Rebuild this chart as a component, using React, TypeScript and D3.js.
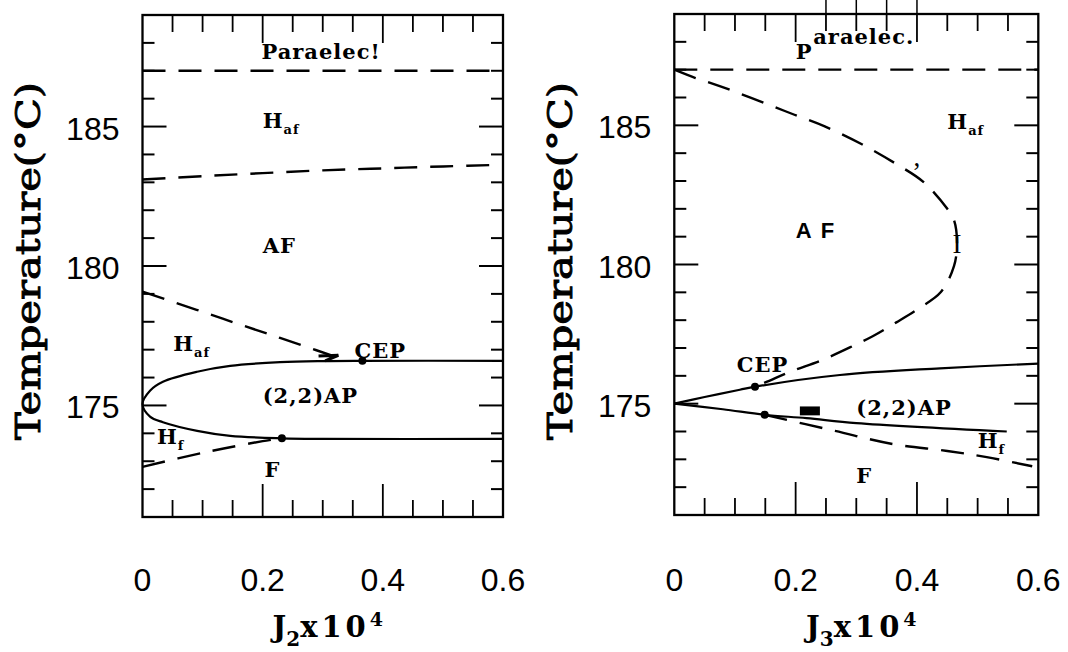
import React from 'react';
import * as d3 from 'd3';

type Pt = [number, number];

// ---- axes (shared by both panels)
const J_DOMAIN: Pt = [0, 0.6];
const T_DOMAIN: Pt = [171, 189];
const J_LABELS = [0, 0.2, 0.4, 0.6];
const J_MAJOR = [0.2, 0.4];
const J_MINOR = [0.05, 0.1, 0.15, 0.25, 0.3, 0.35, 0.45, 0.5, 0.55];
const T_LABELS = [175, 180, 185];
const T_MINOR = [172, 173, 174, 176, 177, 178, 179, 181, 182, 183, 184, 186, 187, 188];

// ---- left panel : J2
const j2Paraelec: Pt[] = [[0, 187], [0.6, 187]];
const j2HafAf: Pt[] = [[0, 183.1], [0.1, 183.22], [0.2, 183.33], [0.3, 183.43], [0.4, 183.5], [0.5, 183.57], [0.6, 183.63]];
const j2AfHaf: Pt[] = [[0, 179.08], [0.09, 178.43], [0.15, 177.99], [0.207, 177.58], [0.262, 177.18], [0.325, 176.72]];
const j2Ap: Pt[] = [
  [0.6, 176.6], [0.366, 176.6], [0.3, 176.59], [0.229, 176.55], [0.146, 176.42], [0.091, 176.21], [0.034, 175.85],
  [0.0125, 175.53], [0, 175.05], [0.0125, 174.6], [0.034, 174.4], [0.091, 174.09], [0.146, 173.91], [0.232, 173.82],
  [0.3, 173.8], [0.6, 173.8],
];
const j2HfF: Pt[] = [[0, 172.8], [0.1, 173.3], [0.2, 173.72], [0.232, 173.82]];
const j2Hook: Pt[] = [[0.293, 176.77], [0.326, 176.8], [0.304, 176.6]];
const j2Dots: Pt[] = [[0.366, 176.6], [0.232, 173.82]];
const j2Labels = [
  { text: 'Paraelec!', j: 0.198, t: 187.42 },
  { text: 'H', sub: 'af', j: 0.2, t: 184.95 },
  { text: 'AF', j: 0.2, t: 180.48 },
  { text: 'H', sub: 'af', j: 0.051, t: 176.94 },
  { text: 'CEP', j: 0.353, t: 176.7 },
  { text: '(2,2)AP', j: 0.2, t: 175.1 },
  { text: 'H', sub: 'f', j: 0.024, t: 173.63 },
  { text: 'F', j: 0.203, t: 172.45 },
];

// ---- right panel : J3
const j3Paraelec: Pt[] = [[0, 187], [0.6, 187]];
const j3Af: Pt[] = [
  [0, 187], [0.035, 186.7], [0.055, 186.56], [0.089, 186.3], [0.164, 185.67], [0.198, 185.38], [0.248, 184.96],
  [0.31, 184.31], [0.366, 183.61], [0.411, 182.96], [0.45, 182.0], [0.461, 181.6], [0.466, 180.8], [0.461, 179.94],
  [0.439, 179.0], [0.405, 178.45], [0.366, 177.92], [0.327, 177.42], [0.298, 177.11], [0.245, 176.58],
  [0.191, 176.15], [0.153, 175.79], [0.133, 175.61],
];
const j3ApUpper: Pt[] = [[0, 175], [0.05, 175.24], [0.108, 175.5], [0.133, 175.61], [0.273, 176.03], [0.438, 176.27], [0.6, 176.44]];
const j3ApLower: Pt[] = [[0, 175], [0.08, 174.8], [0.149, 174.6], [0.218, 174.48], [0.3, 174.3], [0.548, 174.0]];
const j3HfF: Pt[] = [[0.149, 174.6], [0.265, 174.02], [0.36, 173.55], [0.45, 173.3], [0.515, 173.08], [0.59, 172.75]];
const j3Dots: Pt[] = [[0.133, 175.61], [0.149, 174.6]];
const j3Block: Pt[] = [[0.207, 174.9], [0.24, 174.58]];
const j3Stray = [0.25, 0.3, 0.35, 0.4];
const j3Labels = [
  { text: 'P', j: 0.2, t: 187.39 },
  { text: 'araelec.', j: 0.229, t: 187.92 },
  { text: 'H', sub: 'af', j: 0.45, t: 184.88 },
  { text: 'A F', j: 0.2, t: 180.95, sans: true },
  { text: 'I', j: 0.466, t: 180.4, thin: true },
  { text: ',', j: 0.4, t: 183.55, thin: true },
  { text: 'CEP', j: 0.103, t: 176.15 },
  { text: '(2,2)AP', j: 0.3, t: 174.6 },
  { text: 'H', sub: 'f', j: 0.5, t: 173.41 },
  { text: 'F', j: 0.3, t: 172.16 },
];

const SERIF = 'DejaVu Serif';
const SANS = 'Liberation Sans, Arial, sans-serif';

function Panel(props: any) {
  const { x0, x1, y0, y1, sub, dashed, solid, dots, labels, hook, block, stray, titleX } = props;
  const x = d3.scaleLinear().domain(J_DOMAIN).range([x0, x1]);
  const y = d3.scaleLinear().domain(T_DOMAIN).range([y1, y0]);
  const line = d3.line<Pt>().x((d) => x(d[0])).y((d) => y(d[1]));
  const smooth = d3.line<Pt>().x((d) => x(d[0])).y((d) => y(d[1])).curve(d3.curveCatmullRom.alpha(0.5));

  return (
    <g>
      {/* frame */}
      <rect x={x0} y={y0} width={x1 - x0} height={y1 - y0} fill="none" stroke="#000" strokeWidth={2.3} />

      {/* x ticks, bottom and top */}
      {J_MINOR.concat(J_MAJOR).map((v) => {
        const len = J_MAJOR.includes(v) ? 33 : 17;
        return (
          <g key={'jx' + v} stroke="#000" strokeWidth={1.8}>
            <line x1={x(v)} x2={x(v)} y1={y1} y2={y1 - len} />
            <line x1={x(v)} x2={x(v)} y1={y0} y2={y0 + (J_MAJOR.includes(v) ? 28 : 17)} />
          </g>
        );
      })}
      {/* y ticks, left and right */}
      {T_MINOR.concat(T_LABELS).map((v) => {
        const len = T_LABELS.includes(v) ? 24 : 12;
        return (
          <g key={'ty' + v} stroke="#000" strokeWidth={2}>
            <line x1={x0} x2={x0 + len} y1={y(v)} y2={y(v)} />
            <line x1={x1} x2={x1 - len} y1={y(v)} y2={y(v)} />
          </g>
        );
      })}
      {stray && stray.map((v: number) => (
        <line key={'s' + v} x1={x(v)} x2={x(v)} y1={0} y2={y0} stroke="#000" strokeWidth={1.5} />
      ))}

      {/* tick labels */}
      {J_LABELS.map((v) => (
        <text key={'jl' + v} x={x(v)} y={591} textAnchor="middle" fontFamily={SANS} fontSize={32}>{String(v)}</text>
      ))}
      {T_LABELS.map((v) => (
        <text key={'tl' + v} x={x0 - 23} y={y(v) + 2} textAnchor="end" dominantBaseline="central" fontFamily={SANS} fontSize={32}>{String(v)}</text>
      ))}

      {/* axis titles */}
      <text x={(x0 + x1) / 2 + 5} y={637} textAnchor="middle" fontFamily={SERIF} fontWeight="bold" fontSize={29}>
        J<tspan dy={9} fontSize={20}>{sub}</tspan><tspan dy={-9} letterSpacing={4}>x10</tspan><tspan dy={-11} fontSize={19}>4</tspan>
      </text>
      <text transform={`translate(${titleX},261) rotate(-90)`} textAnchor="middle" dominantBaseline="central"
        fontFamily={SERIF} fontSize={33} stroke="#000" strokeWidth={0.9}
        textLength={358} lengthAdjust="spacingAndGlyphs">Temperature(°C)</text>

      {/* phase boundaries */}
      {dashed.map((d: Pt[], i: number) => (
        <path key={'d' + i} d={smooth(d) || ''} fill="none" stroke="#000" strokeWidth={2.4} strokeDasharray="23,13" />
      ))}
      {solid.map((d: Pt[], i: number) => (
        <path key={'l' + i} d={smooth(d) || ''} fill="none" stroke="#000" strokeWidth={2.2} />
      ))}
      {hook && <path d={line(hook) || ''} fill="none" stroke="#000" strokeWidth={3} />}
      {block && (
        <rect x={x(block[0][0])} y={y(block[0][1])} width={x(block[1][0]) - x(block[0][0])}
          height={y(block[1][1]) - y(block[0][1])} fill="#000" />
      )}
      {dots.map((d: Pt, i: number) => (
        <circle key={'c' + i} cx={x(d[0])} cy={y(d[1])} r={4} fill="#000" />
      ))}

      {/* region labels */}
      {labels.map((l: any, i: number) => (
        <text key={'t' + i} x={x(l.j)} y={y(l.t)} textAnchor={l.thin ? 'middle' : 'start'}
          fontFamily={l.sans ? SANS : l.thin ? 'Liberation Serif' : SERIF} fontWeight={l.thin ? 'normal' : 'bold'}
          fontSize={l.thin ? 27 : l.sans ? 22 : 21} letterSpacing={l.sans ? 2 : l.thin ? 0 : 1}>
          {l.text}
          {l.sub && <tspan dy={6} fontSize={13}>{l.sub}</tspan>}
        </text>
      ))}
    </g>
  );
}

export default function App() {
  return (
    <svg width={1068} height={652} style={{ position: 'absolute', left: 0, top: 0, background: '#fff' }}>
      <rect width={1068} height={652} fill="#fff" />
      <Panel x0={142.5} x1={503} y0={15} y1={517} sub="2" titleX={28}
        dashed={[j2Paraelec, j2HafAf, j2AfHaf, j2HfF]} solid={[j2Ap]} dots={j2Dots} labels={j2Labels} hook={j2Hook} />
      <Panel x0={674.3} x1={1038.3} y0={14} y1={515} sub="3" titleX={560}
        dashed={[j3Paraelec, j3Af, j3HfF]} solid={[j3ApUpper, j3ApLower]} dots={j3Dots} labels={j3Labels}
        block={j3Block} stray={j3Stray} />
    </svg>
  );
}
